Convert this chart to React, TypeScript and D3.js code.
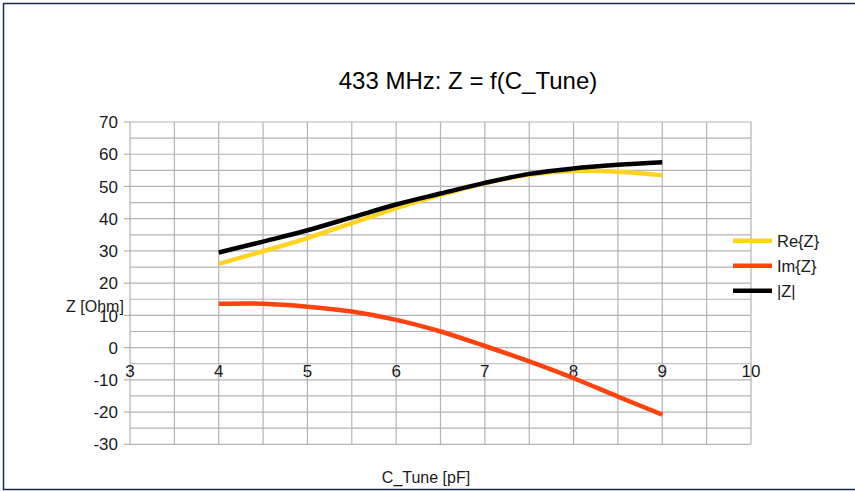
import React from "react";
import * as d3 from "d3";

const cTune = [4, 4.5, 5, 5.5, 6, 6.5, 7, 7.5, 8, 8.5, 9];
const reZ = [26.0, 29.9, 34.0, 38.6, 43.3, 47.4, 51.0, 53.6, 54.8, 54.6, 53.5];
const imZ = [13.6, 13.6, 12.7, 11.2, 8.6, 5.0, 0.5, -4.3, -9.5, -15.2, -20.8];
const absZ = [29.5, 32.9, 36.4, 40.4, 44.4, 47.8, 51.1, 53.9, 55.6, 56.7, 57.5];

const xTicks = [3, 4, 5, 6, 7, 8, 9, 10];
const yTicks = [-30, -20, -10, 0, 10, 20, 30, 40, 50, 60, 70];

const seriesNames = ["Re{Z}", "Im{Z}", "|Z|"];
const seriesColors = ["#ffd320", "#ff420e", "#000000"];
const seriesValues = [reZ, imZ, absZ];

const title = "433 MHz: Z = f(C_Tune)";
const xTitle = "C_Tune [pF]";
const yTitle = "Z [Ohm]";

export default function App() {
  const W = 855;
  const H = 491;
  const left = 130, right = 751, top = 122, bottom = 444.3;
  const x = d3.scaleLinear().domain([3, 10]).range([left, right]);
  const y = d3.scaleLinear().domain([-30, 70]).range([bottom, top]);
  const font = "'Liberation Sans', Arial, sans-serif";

  const xGrid = d3.range(3, 10.01, 0.5);
  const yGrid = d3.range(-30, 70.01, 5);

  const line = d3
    .line<[number, number]>()
    .x((d) => x(d[0]))
    .y((d) => y(d[1]))
    .curve(d3.curveCatmullRom.alpha(0.5));

  const txt = "#1a1a1a";

  return (
    <svg
      width={W}
      height={H}
      style={{ position: "absolute", left: 0, top: 0, background: "#fff" }}
      fontFamily={font}
    >
      <rect x={0} y={0} width={W} height={H} fill="#fff" />
      <path d={`M${W + 5},3.5 H3.5 V489.5 H${W + 5}`} fill="none" stroke="#1b2a4a" strokeWidth={1.5} />
      <text x={468} y={89} textAnchor="middle" fontSize={24} fill="#000">
        {title}
      </text>
      {yGrid.map((v) => (
        <line key={"y" + v} x1={left} x2={right} y1={y(v)} y2={y(v)} stroke="#b3b3b3" strokeWidth={1.2} />
      ))}
      {xGrid.map((v) => (
        <line key={"x" + v} x1={x(v)} x2={x(v)} y1={top} y2={bottom} stroke="#b3b3b3" strokeWidth={1.2} />
      ))}
      {yTicks.map((v) => (
        <g key={"yt" + v}>
          <line x1={left - 6} x2={left} y1={y(v)} y2={y(v)} stroke="#b3b3b3" strokeWidth={1.2} />
          <text x={118} y={y(v)} dy="0.36em" textAnchor="end" fontSize={17} fill={txt}>
            {v}
          </text>
        </g>
      ))}
      {xTicks.map((v) => (
        <text key={"xt" + v} x={x(v)} y={376.5} textAnchor="middle" fontSize={17} fill={txt}>
          {v}
        </text>
      ))}
      <text x={95} y={312} textAnchor="middle" fontSize={16} fill={txt}>
        {yTitle}
      </text>
      <text x={426} y={482.5} textAnchor="middle" fontSize={16} fill={txt}>
        {xTitle}
      </text>
      {seriesValues.map((vals, i) => (
        <path
          key={"s" + i}
          d={line(cTune.map((c, j) => [c, vals[j]] as [number, number])) || ""}
          fill="none"
          stroke={seriesColors[i]}
          strokeWidth={4.5}
        />
      ))}
      {seriesNames.map((n, i) => (
        <g key={"lg" + i} transform={`translate(733, ${240.7 + i * 25})`}>
          <line x1={0} x2={39} y1={0} y2={0} stroke={seriesColors[i]} strokeWidth={4.5} />
          <text x={44} y={0} dy="0.36em" fontSize={16.5} fill={txt}>
            {n}
          </text>
        </g>
      ))}
    </svg>
  );
}
